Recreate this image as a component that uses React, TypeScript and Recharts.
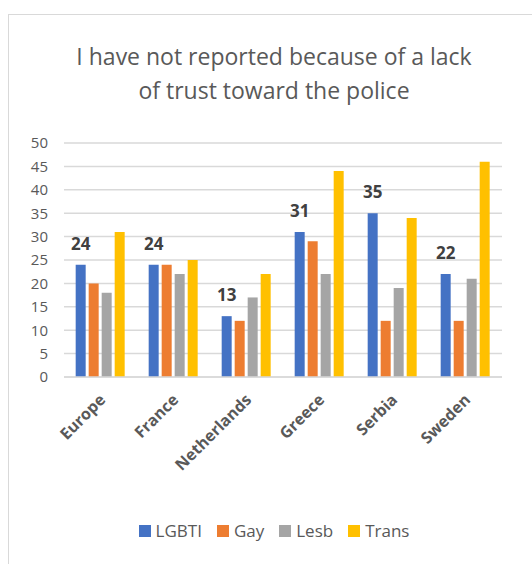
import React from 'react';
import { BarChart, Bar, XAxis, YAxis, CartesianGrid, LabelList } from 'recharts';

const countries = ['Europe', 'France', 'Netherlands', 'Greece', 'Serbia', 'Sweden'];
const lgbti = [24, 24, 13, 31, 35, 22];
const gay = [20, 24, 12, 29, 12, 12];
const lesb = [18, 22, 17, 22, 19, 21];
const trans = [31, 25, 22, 44, 34, 46];
const yTicks = [0, 5, 10, 15, 20, 25, 30, 35, 40, 45, 50];

const seriesNames = ['LGBTI', 'Gay', 'Lesb', 'Trans'];
const seriesColors = ['#4472C4', '#ED7D31', '#A5A5A5', '#FFC000'];

const data = countries.map((c, i) => ({
  name: c,
  LGBTI: lgbti[i],
  Gay: gay[i],
  Lesb: lesb[i],
  Trans: trans[i],
}));

const FONT = '"Open Sans", "Noto Sans", sans-serif';
const TEXT = '#595959';

const CountryTick = (props: any) => {
  const { x, y, payload } = props;
  return (
    <g transform={`translate(${x - 2},${y + 8})`}>
      <text
        transform="rotate(-45)"
        textAnchor="end"
        dy="0.7em"
        fill={TEXT}
        fontSize={16}
        fontWeight="bold"
        fontFamily={FONT}
      >
        {payload.value}
      </text>
    </g>
  );
};

export default function App() {
  return (
    <div
      style={{
        position: 'absolute',
        left: 8,
        top: 14,
        width: 524,
        height: 550,
        boxSizing: 'border-box',
        borderTop: '1px solid #d9d9d9',
        borderLeft: '1px solid #d9d9d9',
        background: '#fff',
        fontFamily: FONT,
      }}
    >
      <div
        style={{
          position: 'absolute',
          left: 0,
          width: 530,
          top: 24,
          textAlign: 'center',
          fontSize: 23,
          lineHeight: '34px',
          color: TEXT,
        }}
      >
        I have not reported because of a lack
        <br />
        of trust toward the police
      </div>
      <div style={{ position: 'absolute', left: 0, top: 0 }}>
        <BarChart
          width={523}
          height={549}
          data={data}
          margin={{ top: 128, right: 30, left: 15, bottom: 87 }}
          barCategoryGap="16%"
          barGap={3}
        >
          <CartesianGrid vertical={false} stroke="#d9d9d9" strokeWidth={1.5} />
          <XAxis
            dataKey="name"
            height={100}
            interval={0}
            tickLine={false}
            axisLine={{ stroke: '#d9d9d9', strokeWidth: 1.5 }}
            tick={<CountryTick />}
          />
          <YAxis
            width={40}
            domain={[0, 50]}
            ticks={yTicks}
            interval={0}
            tickLine={false}
            axisLine={false}
            tickMargin={10}
            tick={{ fill: TEXT, fontSize: 15, fontFamily: FONT }}
          />
          {seriesNames.map((s, i) => (
            <Bar key={s} dataKey={s} fill={seriesColors[i]} isAnimationActive={false}>
              {i === 0 && (
                <LabelList
                  dataKey={s}
                  position="top"
                  offset={15}
                  fill="#404040"
                  fontSize={17}
                  fontWeight="bold"
                  fontFamily={FONT}
                />
              )}
            </Bar>
          ))}
        </BarChart>
      </div>
      <div
        style={{
          position: 'absolute',
          left: 0,
          width: 530,
          top: 504,
          display: 'flex',
          justifyContent: 'center',
          gap: 15,
          fontSize: 17,
          color: TEXT,
        }}
      >
        {seriesNames.map((s, i) => (
          <div key={s} style={{ display: 'flex', alignItems: 'center', gap: 5 }}>
            <span style={{ width: 12, height: 12, background: seriesColors[i], display: 'inline-block' }} />
            <span>{s}</span>
          </div>
        ))}
      </div>
    </div>
  );
}
